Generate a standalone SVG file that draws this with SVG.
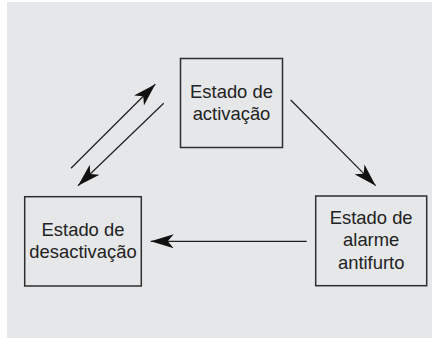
<svg xmlns="http://www.w3.org/2000/svg" width="432" height="339" viewBox="0 0 432 339">
<style>
.node rect{fill:none;stroke:#2e2e2e;stroke-width:1.5}
.node text{font-family:"Liberation Sans",Arial,sans-serif;font-size:18.4px;fill:#222;text-anchor:middle}
.conn line{stroke:#1e1e1e;stroke-width:1.2;fill:none;marker-end:url(#ah)}
</style>
<defs>
<marker id="ah" markerUnits="userSpaceOnUse" viewBox="-24 -8 25 16" refX="0" refY="0" markerWidth="25" markerHeight="16" orient="auto">
<path d="M0,0 L-23,-7 L-17,0 L-23,7 Z" fill="#111"/>
</marker>
</defs>
<rect x="7" y="2" width="425" height="336" fill="#e6e7e9"/>
<g id="activacao" class="node">
<rect x="180.5" y="58.5" width="102" height="89"/>
<text x="231.5" y="97.5">Estado de</text>
<text x="231.5" y="119.5">activação</text>
</g>
<g id="desactivacao" class="node">
<rect x="24.7" y="196.7" width="116.6" height="89.3"/>
<text x="83" y="235.5">Estado de</text>
<text x="83" y="258">desactivação</text>
</g>
<g id="alarme" class="node">
<rect x="315.7" y="196" width="111" height="89.7"/>
<text x="371.2" y="223.5">Estado de</text>
<text x="371.2" y="246">alarme</text>
<text x="371.2" y="268.5">antifurto</text>
</g>
<g id="connectors" class="conn">
<line x1="71" y1="168.3" x2="155.3" y2="84.3"/>
<line x1="163.7" y1="103.3" x2="78" y2="185.7"/>
<line x1="290.7" y1="100" x2="375.7" y2="185.7"/>
<line x1="306.7" y1="241.3" x2="150.7" y2="241.3"/>
</g>
</svg>
